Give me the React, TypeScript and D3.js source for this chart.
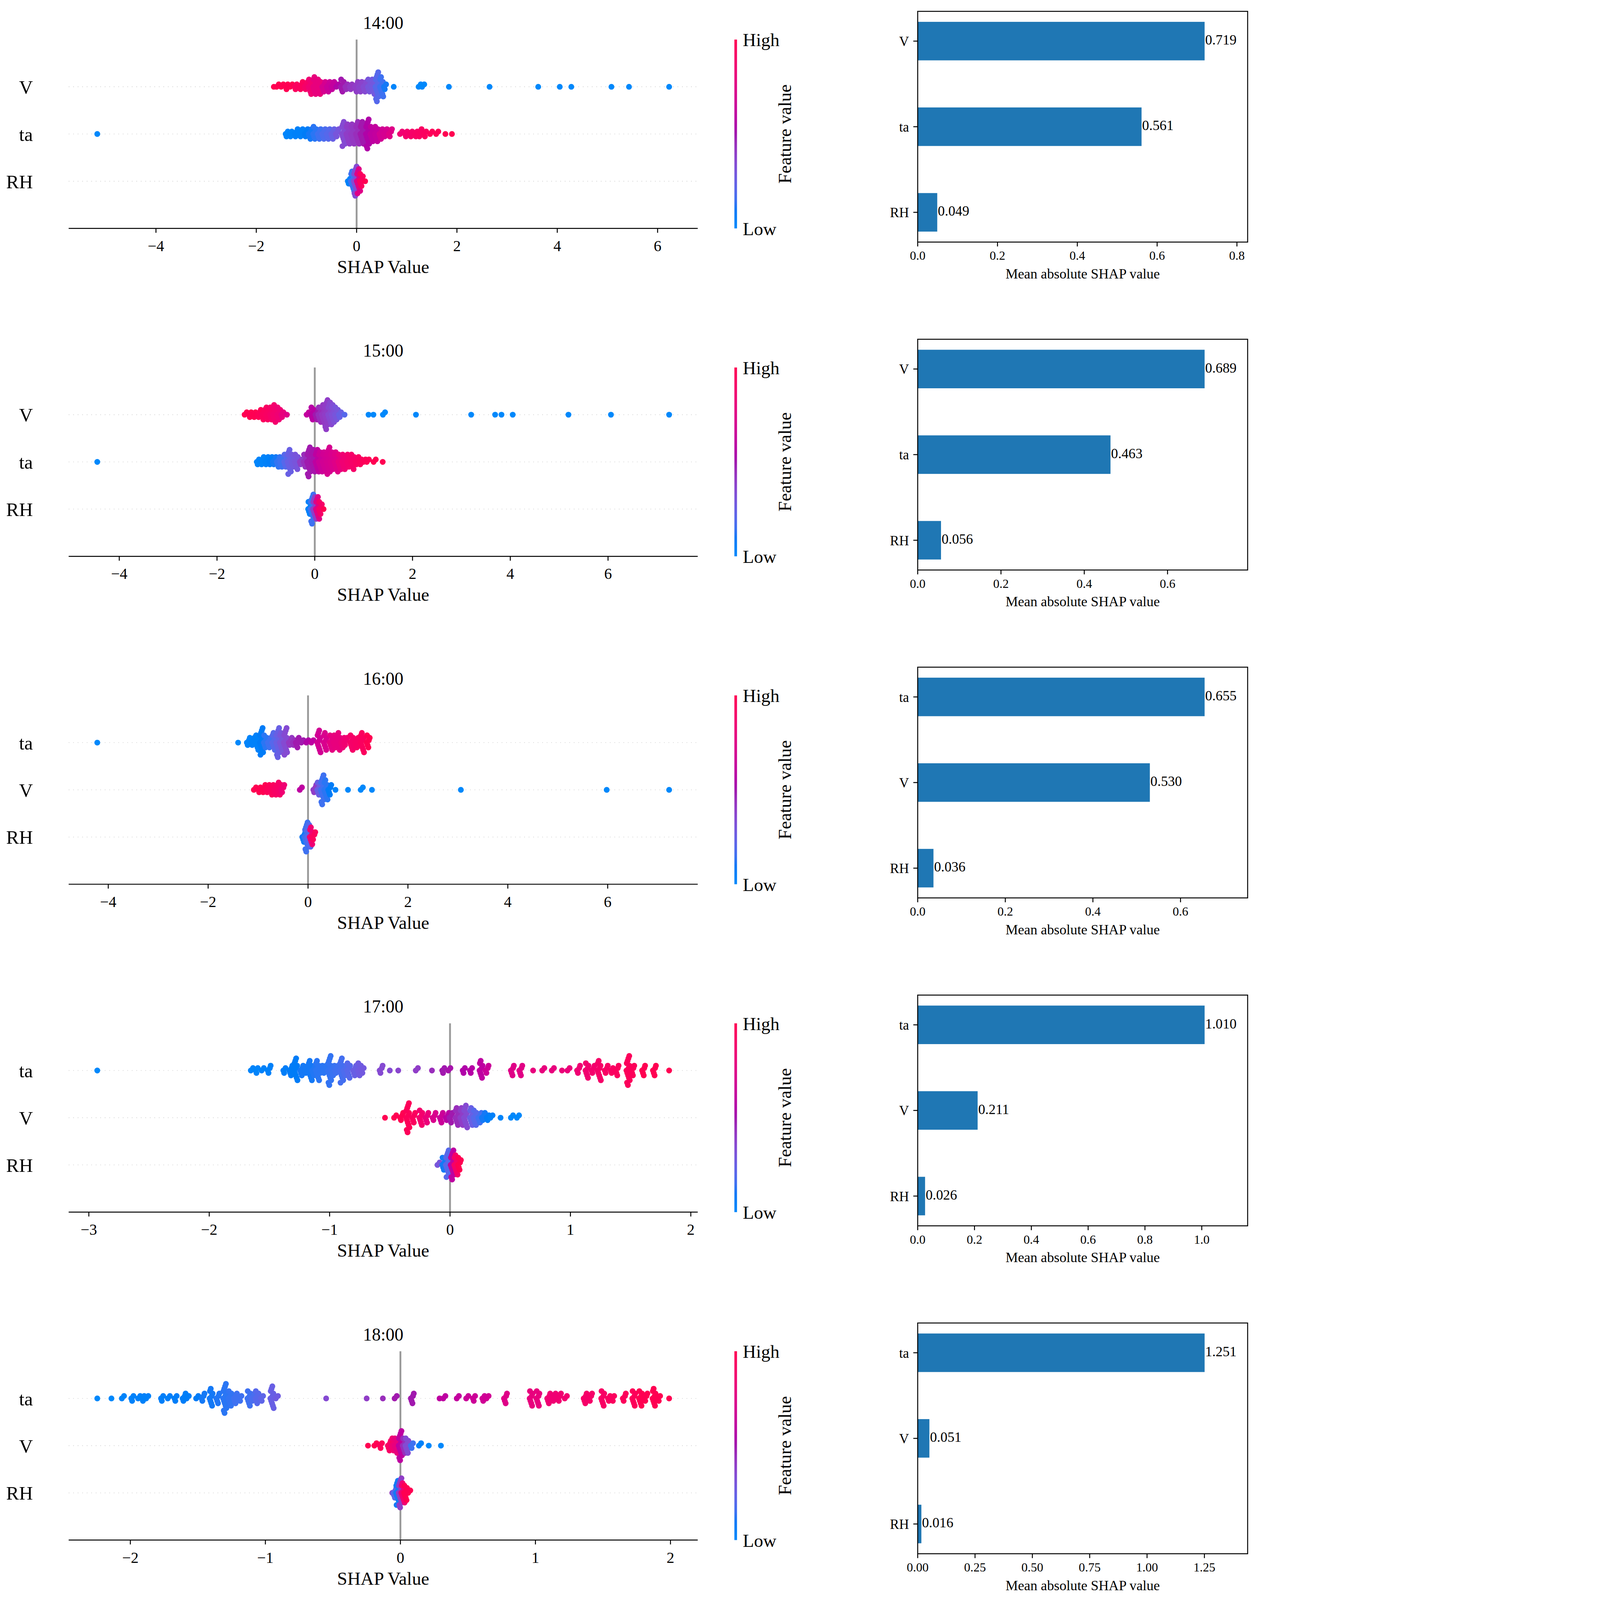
import * as d3 from "d3";

// [shap value, dots stacked at that value, feature value 0 (low) .. 1 (high)]
type Stack = [number, number, number];

const hours = ["14:00", "15:00", "16:00", "17:00", "18:00"];

// feature order of each panel, top to bottom
const features = [
  ["V", "ta", "RH"],
  ["V", "ta", "RH"],
  ["ta", "V", "RH"],
  ["ta", "V", "RH"],
  ["ta", "V", "RH"],
];

const meanAbsShap = [
  [0.719, 0.561, 0.049],
  [0.689, 0.463, 0.056],
  [0.655, 0.53, 0.036],
  [1.01, 0.211, 0.026],
  [1.251, 0.051, 0.016],
];

const shapTicks = [
  [-4, -2, 0, 2, 4, 6],
  [-4, -2, 0, 2, 4, 6],
  [-4, -2, 0, 2, 4, 6],
  [-3, -2, -1, 0, 1, 2],
  [-2, -1, 0, 1, 2],
];

const barTicks = [
  ["0.0", "0.2", "0.4", "0.6", "0.8"],
  ["0.0", "0.2", "0.4", "0.6"],
  ["0.0", "0.2", "0.4", "0.6"],
  ["0.0", "0.2", "0.4", "0.6", "0.8", "1.0"],
  ["0.00", "0.25", "0.50", "0.75", "1.00", "1.25"],
];

// 14:00
const v1400: Stack[] = [
  [-1.65, 1, 1], [-1.56, 2, 1], [-1.47, 2, 1], [-1.38, 3, 1], [-1.29, 2, 1], [-1.2, 3, 0.95],
  [-1.1, 4, 0.95], [-1.0, 4, 0.9], [-0.92, 7, 0.85], [-0.83, 8, 0.8], [-0.74, 7, 0.8],
  [-0.65, 5, 0.7], [-0.56, 5, 0.65], [-0.47, 4, 0.62], [-0.37, 2, 0.55], [-0.28, 6, 0.5],
  [-0.19, 3, 0.45], [-0.1, 3, 0.42], [0, 5, 0.4], [0.08, 5, 0.38], [0.17, 5, 0.35],
  [0.26, 6, 0.3], [0.34, 7, 0.28], [0.41, 13, 0.2], [0.5, 9, 0.15], [0.58, 3, 0.1],
  [0.74, 1, 0.02], [1.27, 2, 0], [1.34, 2, 0], [1.84, 1, 0], [2.65, 1, 0], [3.62, 1, 0],
  [4.05, 1, 0], [4.28, 1, 0], [5.08, 1, 0], [5.43, 1, 0], [6.23, 1, 0],
];
const ta1400: Stack[] = [
  [-5.17, 1, 0], [-1.38, 3, 0.02], [-1.3, 3, 0.03], [-1.2, 4, 0.05], [-1.1, 4, 0.05],
  [-1.0, 4, 0.08], [-0.92, 5, 0.1], [-0.83, 6, 0.12], [-0.74, 5, 0.15], [-0.65, 5, 0.18],
  [-0.56, 5, 0.2], [-0.47, 5, 0.25], [-0.38, 4, 0.3], [-0.26, 11, 0.35], [-0.17, 9, 0.4],
  [-0.08, 9, 0.42], [0.02, 10, 0.45], [0.11, 10, 0.5], [0.22, 13, 0.55], [0.31, 7, 0.6],
  [0.4, 7, 0.62], [0.49, 5, 0.68], [0.58, 4, 0.7], [0.68, 4, 0.75], [0.9, 2, 0.85],
  [1.0, 3, 0.88], [1.1, 3, 0.9], [1.2, 3, 0.92], [1.27, 4, 0.93], [1.38, 3, 0.95],
  [1.5, 2, 0.97], [1.62, 2, 0.98], [1.77, 1, 1], [1.9, 1, 1],
];
const rh1400: Stack[] = [
  [-0.14, 3, 0.05], [-0.08, 9, 0.15], [-0.02, 13, 0.35], [0.04, 11, 0.75], [0.1, 6, 0.95], [0.17, 1, 1],
];

// 15:00
const v1500: Stack[] = [
  [-1.4, 2, 1], [-1.31, 3, 1], [-1.22, 3, 1], [-1.13, 4, 0.98], [-1.05, 5, 0.95], [-0.96, 6, 0.93],
  [-0.88, 6, 0.9], [-0.82, 8, 0.88], [-0.73, 6, 0.85], [-0.65, 3, 0.8], [-0.57, 1, 0.75],
  [-0.13, 2, 0.62], [-0.04, 6, 0.58], [0.05, 5, 0.5], [0.11, 7, 0.45], [0.18, 9, 0.42],
  [0.24, 13, 0.4], [0.31, 10, 0.36], [0.38, 8, 0.33], [0.45, 6, 0.3], [0.53, 3, 0.25],
  [0.61, 1, 0.2], [1.1, 1, 0], [1.2, 1, 0], [1.43, 2, 0], [2.07, 1, 0], [3.2, 1, 0],
  [3.69, 1, 0], [3.82, 1, 0], [4.05, 1, 0], [5.19, 1, 0], [6.06, 1, 0], [7.25, 1, 0],
];
const ta1500: Stack[] = [
  [-4.45, 1, 0], [-1.15, 3, 0.02], [-1.07, 4, 0.03], [-0.98, 4, 0.05], [-0.9, 4, 0.07],
  [-0.82, 4, 0.1], [-0.74, 5, 0.13], [-0.67, 5, 0.15], [-0.59, 6, 0.2], [-0.52, 11, 0.25],
  [-0.44, 6, 0.28], [-0.37, 7, 0.3], [-0.27, 3, 0.4], [-0.19, 6, 0.45], [-0.12, 13, 0.5],
  [-0.03, 10, 0.52], [0.05, 10, 0.6], [0.12, 9, 0.65], [0.2, 9, 0.68], [0.28, 12, 0.7],
  [0.36, 8, 0.72], [0.44, 9, 0.75], [0.52, 7, 0.8], [0.6, 7, 0.85], [0.7, 6, 0.88],
  [0.78, 7, 0.9], [0.87, 4, 0.93], [0.95, 3, 0.95], [1.03, 2, 0.97], [1.1, 2, 0.98],
  [1.24, 2, 1], [1.39, 1, 1],
];
const rh1500: Stack[] = [
  [-0.1, 6, 0.05], [-0.05, 13, 0.15], [0.0, 10, 0.4], [0.06, 10, 0.75], [0.12, 6, 0.9], [0.18, 1, 1],
];

// 16:00
const ta1600: Stack[] = [
  [-4.22, 1, 0], [-1.4, 1, 0], [-1.19, 4, 0.03], [-1.1, 4, 0.05], [-1.01, 7, 0.05],
  [-0.93, 12, 0.08], [-0.85, 6, 0.12], [-0.77, 5, 0.15], [-0.68, 8, 0.2], [-0.6, 13, 0.25],
  [-0.53, 9, 0.3], [-0.45, 12, 0.35], [-0.35, 4, 0.42], [-0.27, 3, 0.45], [-0.21, 5, 0.5],
  [-0.1, 2, 0.5], [0.0, 2, 0.55], [0.1, 2, 0.6], [0.22, 10, 0.68], [0.35, 8, 0.72],
  [0.47, 7, 0.78], [0.55, 6, 0.8], [0.62, 8, 0.8], [0.7, 5, 0.83], [0.76, 4, 0.86],
  [0.88, 7, 0.9], [0.98, 5, 0.92], [1.09, 9, 0.95], [1.21, 6, 1],
];
const v1600: Stack[] = [
  [-1.05, 2, 1], [-0.96, 3, 1], [-0.88, 4, 1], [-0.8, 4, 0.97], [-0.72, 5, 0.95],
  [-0.64, 5, 0.92], [-0.56, 6, 0.9], [-0.5, 4, 0.85], [-0.13, 2, 0.6], [0.14, 4, 0.4],
  [0.22, 6, 0.25], [0.29, 13, 0.15], [0.36, 9, 0.12], [0.44, 5, 0.08], [0.55, 1, 0.03],
  [0.8, 1, 0], [1.09, 2, 0], [1.28, 1, 0], [3.06, 1, 0], [5.98, 1, 0], [7.23, 1, 0],
];
const rh1600: Stack[] = [
  [-0.08, 5, 0.1], [-0.03, 13, 0.15], [0.02, 10, 0.2], [0.07, 8, 0.85], [0.12, 4, 0.95],
];

// 17:00
const ta1700: Stack[] = [
  [-2.93, 1, 0], [-1.64, 2, 0.03], [-1.6, 3, 0.03], [-1.55, 2, 0.04], [-1.5, 4, 0.05],
  [-1.37, 3, 0.07], [-1.32, 5, 0.08], [-1.28, 10, 0.08], [-1.23, 5, 0.1], [-1.19, 4, 0.1],
  [-1.16, 9, 0.1], [-1.13, 5, 0.11], [-1.1, 9, 0.12], [-1.07, 4, 0.12], [-1.04, 4, 0.12],
  [-1.0, 13, 0.13], [-0.97, 5, 0.14], [-0.94, 4, 0.15], [-0.9, 11, 0.16], [-0.87, 5, 0.18],
  [-0.84, 7, 0.2], [-0.79, 5, 0.25], [-0.75, 6, 0.27], [-0.72, 3, 0.28], [-0.57, 4, 0.35],
  [-0.5, 1, 0.35], [-0.43, 1, 0.37], [-0.27, 2, 0.4], [-0.15, 1, 0.45], [-0.05, 3, 0.5],
  [0.0, 2, 0.52], [0.12, 3, 0.55], [0.18, 3, 0.57], [0.26, 8, 0.6], [0.31, 4, 0.65],
  [0.52, 5, 0.75], [0.59, 5, 0.76], [0.69, 1, 0.8], [0.78, 2, 0.8], [0.86, 2, 0.8],
  [0.93, 1, 0.82], [0.99, 2, 0.82], [1.07, 4, 0.85], [1.14, 7, 0.87], [1.19, 4, 0.88],
  [1.24, 9, 0.9], [1.3, 4, 0.92], [1.35, 3, 0.93], [1.39, 5, 0.95], [1.48, 13, 0.96],
  [1.52, 5, 0.97], [1.61, 5, 1], [1.7, 5, 1], [1.82, 1, 1],
];
const v1700: Stack[] = [
  [-0.54, 1, 1], [-0.45, 2, 1], [-0.4, 4, 1], [-0.35, 13, 0.97], [-0.3, 5, 0.95],
  [-0.24, 7, 0.88], [-0.19, 5, 0.82], [-0.13, 4, 0.72], [-0.07, 5, 0.65], [-0.02, 4, 0.58],
  [0.01, 5, 0.5], [0.06, 8, 0.45], [0.1, 8, 0.4], [0.13, 10, 0.35], [0.18, 8, 0.25],
  [0.21, 7, 0.2], [0.25, 5, 0.15], [0.28, 4, 0.1], [0.32, 3, 0.07], [0.35, 2, 0.05],
  [0.42, 1, 0.03], [0.52, 2, 0], [0.57, 2, 0],
];
const rh1700: Stack[] = [
  [-0.09, 2, 0.3], [-0.05, 6, 0.1], [-0.02, 12, 0.2], [0.02, 13, 0.6], [0.05, 9, 0.9], [0.08, 6, 1],
];

// 18:00
const ta1800: Stack[] = [
  [-2.245, 1, 0], [-2.14, 1, 0], [-2.05, 2, 0.03], [-1.98, 3, 0.04], [-1.93, 2, 0.05],
  [-1.9, 3, 0.05], [-1.87, 2, 0.05], [-1.76, 3, 0.06], [-1.71, 2, 0.06], [-1.66, 3, 0.07],
  [-1.6, 4, 0.07], [-1.57, 2, 0.07], [-1.5, 2, 0.08], [-1.46, 4, 0.1], [-1.4, 8, 0.1],
  [-1.35, 5, 0.11], [-1.3, 13, 0.12], [-1.26, 7, 0.13], [-1.22, 5, 0.15], [-1.18, 3, 0.15],
  [-1.12, 7, 0.15], [-1.09, 4, 0.17], [-1.06, 6, 0.2], [-1.02, 3, 0.22], [-0.95, 10, 0.25],
  [-0.91, 2, 0.27], [-0.55, 1, 0.35], [-0.25, 1, 0.4], [-0.13, 1, 0.45], [-0.03, 2, 0.5],
  [0.09, 5, 0.5], [0.29, 1, 0.6], [0.33, 2, 0.6], [0.43, 2, 0.62], [0.5, 2, 0.65],
  [0.55, 3, 0.66], [0.62, 3, 0.67], [0.65, 2, 0.68], [0.78, 5, 0.75], [0.97, 7, 0.8],
  [1.02, 7, 0.8], [1.1, 5, 0.85], [1.14, 4, 0.85], [1.18, 4, 0.86], [1.23, 2, 0.87],
  [1.37, 5, 0.9], [1.41, 4, 0.9], [1.5, 7, 0.92], [1.55, 3, 0.94], [1.58, 3, 0.95],
  [1.66, 4, 0.96], [1.73, 7, 0.97], [1.78, 7, 1], [1.82, 4, 1], [1.88, 8, 1], [1.92, 3, 1],
  [1.99, 1, 1],
];
const v1800: Stack[] = [
  [-0.24, 1, 1], [-0.18, 2, 1], [-0.14, 3, 0.97], [-0.08, 5, 0.92], [-0.05, 6, 0.85],
  [-0.03, 7, 0.8], [0.0, 13, 0.6], [0.03, 7, 0.45], [0.05, 7, 0.35], [0.09, 3, 0.15],
  [0.15, 2, 0.05], [0.21, 1, 0], [0.3, 1, 0],
];
const rh1800: Stack[] = [
  [-0.06, 1, 0.4], [-0.04, 5, 0.2], [-0.02, 11, 0.1], [0.0, 13, 0.4], [0.02, 9, 0.85], [0.04, 7, 1], [0.07, 2, 1],
];

const swarms: Stack[][][] = [
  [v1400, ta1400, rh1400],
  [v1500, ta1500, rh1500],
  [ta1600, v1600, rh1600],
  [ta1700, v1700, rh1700],
  [ta1800, v1800, rh1800],
];

const W = 4312;
const H = 5499;
const ROW = 1127;
const SW = { left: 236, right: 2398, top: 136, bottom: 785 };
const BAR = { left: 3154, right: 4288, top: 39, bottom: 832 };
const FONT = "'Liberation Serif', 'Times New Roman', Times, serif";
const SPINE = 3.3;

// shap's red_blue colormap, interpolated in LCh
const shapColor = (t: number) => {
  const l = t < 0.5 ? 54 + (40 - 54) * (t / 0.5) : 40 + (54 - 40) * ((t - 0.5) / 0.5);
  const c = 70 + 20 * t;
  const h = ((4.6588 + (0.35470565 + 2 * Math.PI - 4.6588) * t) * 180) / Math.PI;
  return d3.hcl(h, c, l).formatHex();
};

const fmtMinus = (v: number) => (v < 0 ? "\u2212" + Math.abs(v) : String(v));

// stack dots like shap's beeswarm: 0, +1, -1, +2, -2 ... scaled so the row fills 0.4 units
function layoutRow(stacks: Stack[], spread: number) {
  const maxLayer = d3.max(stacks, (s) => Math.floor(s[1] / 2)) ?? 0;
  const step = 0.36 / (maxLayer + 1);
  const pts: { x: number; dy: number; c: number }[] = [];
  stacks.forEach(([x, n, c]) => {
    for (let l = 0; l < n; l++) {
      const jig = n > 1 ? (((l * 0.618) % 1) - 0.5) * spread : 0;
      pts.push({ x: x + jig, dy: Math.ceil(l / 2) * ((l % 2) * 2 - 1) * step, c });
    }
  });
  return pts;
}

function Panel({ i }: { i: number }) {
  const rows = swarms[i];
  const names = features[i];
  const [mn, mx] = d3.extent(rows.flat(), (d) => d[0]) as [number, number];
  const pad = (mx - mn) * 0.05;
  const x = d3.scaleLinear().domain([mn - pad, mx + pad]).range([SW.left, SW.right]);
  const y = d3.scaleLinear().domain([-1, 3]).range([SW.bottom, SW.top]);
  const cx = (SW.left + SW.right) / 2;
  const spread = x.invert(SW.left + 12) - x.invert(SW.left);

  const vals = meanAbsShap[i];
  const xb = d3.scaleLinear().domain([0, d3.max(vals)! * 1.15]).range([BAR.left, BAR.right]);
  const m = 2.45 * 0.05;
  const yb = d3.scaleLinear().domain([-0.225 - m, 2.225 + m]).range([BAR.bottom, BAR.top]);
  const bh = yb(0) - yb(0.45);

  return (
    <g transform={`translate(0,${i * ROW})`} fontFamily={FONT} fill="#000">
      <text x={cx} y={99} fontSize={61} textAnchor="middle">{hours[i]}</text>

      {/* beeswarm */}
      {names.map((_, r) => (
        <line key={`g${r}`} x1={SW.left} x2={SW.right} y1={y(2 - r)} y2={y(2 - r)}
          stroke="#cccccc" strokeWidth={2.1} strokeDasharray="2.5,13" />
      ))}
      <line x1={x(0)} x2={x(0)} y1={SW.top} y2={SW.bottom} stroke="#999999" strokeWidth={6.25} />
      {rows.map((stacks, r) =>
        layoutRow(stacks, spread).map((p, k) => (
          <circle key={`p${r}-${k}`} cx={x(p.x)} cy={y(2 - r + p.dy)} r={10} fill={shapColor(p.c)} />
        ))
      )}
      {names.map((n, r) => (
        <text key={`n${r}`} x={113} y={y(2 - r)} dy="0.36em" fontSize={66} textAnchor="end">{n}</text>
      ))}
      <line x1={SW.left} x2={SW.right} y1={SW.bottom} y2={SW.bottom} stroke="#000" strokeWidth={SPINE} />
      {shapTicks[i].map((t) => (
        <g key={`t${t}`}>
          <line x1={x(t)} x2={x(t)} y1={SW.bottom} y2={SW.bottom + 15} stroke="#000" strokeWidth={SPINE} />
          <text x={x(t)} y={863} fontSize={53} textAnchor="middle">{fmtMinus(t)}</text>
        </g>
      ))}
      <text x={cx} y={938} fontSize={63} textAnchor="middle">SHAP Value</text>

      {/* colour bar */}
      <rect x={2524} y={SW.top} width={9} height={SW.bottom - SW.top} fill="url(#shapGrad)" />
      <text x={2553} y={SW.top + 23} fontSize={63}>High</text>
      <text x={2553} y={SW.bottom + 23} fontSize={63}>Low</text>
      <text transform={`translate(2718,${(SW.top + SW.bottom) / 2}) rotate(-90)`} fontSize={63} textAnchor="middle">
        Feature value
      </text>

      {/* mean |SHAP| bars */}
      {vals.map((v, r) => (
        <g key={`b${r}`}>
          <rect x={xb(0)} y={yb(2 - r) - bh / 2} width={xb(v) - xb(0)} height={bh} fill="#1f77b4" />
          <text x={xb(v) + 2} y={yb(2 - r)} dy="0.25em" fontSize={48}>{v.toFixed(3)}</text>
          <line x1={BAR.left - 15} x2={BAR.left} y1={yb(2 - r)} y2={yb(2 - r)} stroke="#000" strokeWidth={SPINE} />
          <text x={BAR.left - 30} y={yb(2 - r)} dy="0.36em" fontSize={47} textAnchor="end">{names[r]}</text>
        </g>
      ))}
      <rect x={BAR.left} y={BAR.top} width={BAR.right - BAR.left} height={BAR.bottom - BAR.top}
        fill="none" stroke="#000" strokeWidth={SPINE} />
      {barTicks[i].map((t) => (
        <g key={`bt${t}`}>
          <line x1={xb(+t)} x2={xb(+t)} y1={BAR.bottom} y2={BAR.bottom + 15} stroke="#000" strokeWidth={SPINE} />
          <text x={xb(+t)} y={893} fontSize={43} textAnchor="middle">{t}</text>
        </g>
      ))}
      <text x={(BAR.left + BAR.right) / 2} y={957} fontSize={48} textAnchor="middle">Mean absolute SHAP value</text>
    </g>
  );
}

export default function App() {
  const stops = d3.range(0, 1.0001, 0.05);
  return (
    <svg viewBox={`0 0 ${W} ${H}`} preserveAspectRatio="xMinYMin meet"
      style={{ position: "fixed", left: 0, top: 0, width: "100vw", height: "100vh", display: "block", background: "#fff" }}>
      <defs>
        <linearGradient id="shapGrad" x1="0" y1="1" x2="0" y2="0">
          {stops.map((t) => (
            <stop key={t} offset={t} stopColor={shapColor(t)} />
          ))}
        </linearGradient>
      </defs>
      <rect width={W} height={H} fill="#fff" />
      {hours.map((_, i) => (
        <Panel key={i} i={i} />
      ))}
    </svg>
  );
}
